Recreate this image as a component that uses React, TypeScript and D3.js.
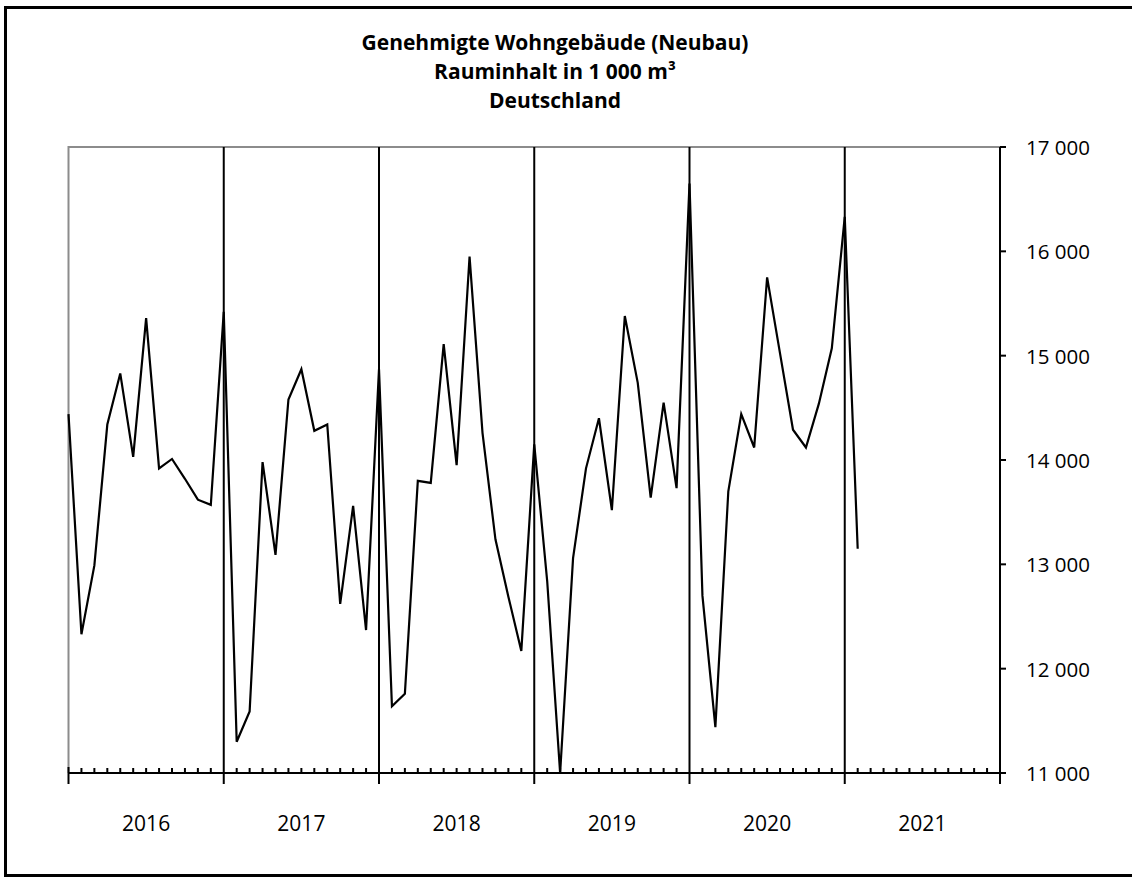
import React, { useEffect, useRef } from 'react';
import * as d3 from 'd3';

const years = ['2016', '2017', '2018', '2019', '2020', '2021'];
const yTicks = [11000, 12000, 13000, 14000, 15000, 16000, 17000];
const titleLines = ['Genehmigte Wohngebäude (Neubau)', 'Rauminhalt in 1 000 m³', 'Deutschland'];

// monthly values, Jan..Dec
const values2016 = [14440, 12330, 12990, 14340, 14830, 14030, 15360, 13920, 14010, 13820, 13620, 13570];
const values2017 = [15420, 11300, 11590, 13980, 13090, 14580, 14870, 14280, 14340, 12620, 13560, 12370];
const values2018 = [14870, 11640, 11760, 13800, 13780, 15110, 13950, 15950, 14260, 13240, 12690, 12170];
const values2019 = [14150, 12840, 11000, 13060, 13920, 14400, 13520, 15380, 14740, 13640, 14550, 13730];
const values2020 = [16650, 12700, 11440, 13700, 14440, 14120, 15750, 15020, 14290, 14120, 14540, 15070];
const values2021 = [16330, 13150];

const App = () => {
    const ref = useRef(null);

    useEffect(() => {
        const series = [...values2016, ...values2017, ...values2018, ...values2019, ...values2020, ...values2021];
        const data = series.map((v, i) => ({ i, v }));

        const svg = d3.select(ref.current);
        svg.selectAll('*').remove();

        const left = 68.5, right = 1000, top = 147, bottom = 773;
        const nMonths = years.length * 12;

        const x = d3.scaleLinear().domain([0, nMonths]).range([left, right]);
        const y = d3.scaleLinear().domain([11000, 17000]).range([bottom, top]);

        // outer frame
        svg.append('rect')
            .attr('x', 5.5).attr('y', 7.5)
            .attr('width', 1140).attr('height', 868)
            .attr('fill', 'none')
            .attr('stroke', '#000')
            .attr('stroke-width', 3);

        // title
        svg.append('g').selectAll('text')
            .data(titleLines)
            .enter().append('text')
            .attr('x', 555)
            .attr('y', (d, i) => 50 + i * 29)
            .attr('text-anchor', 'middle')
            .attr('font-family', 'Open Sans, sans-serif')
            .attr('font-weight', 'bold')
            .attr('font-size', 21)
            .attr('fill', '#000')
            .text(d => d);

        // grey plot border (left + top)
        svg.append('path')
            .attr('d', `M${left},${bottom}V${top}H${right}`)
            .attr('fill', 'none')
            .attr('stroke', '#8c8c8c')
            .attr('stroke-width', 2);

        // month ticks
        svg.append('g').selectAll('line')
            .data(d3.range(0, nMonths + 1).filter(m => m % 12 !== 0))
            .enter().append('line')
            .attr('x1', d => x(d)).attr('x2', d => x(d))
            .attr('y1', bottom).attr('y2', bottom - 5)
            .attr('stroke', '#000')
            .attr('stroke-width', 2);

        // year separators
        svg.append('g').selectAll('line')
            .data(d3.range(0, years.length + 1))
            .enter().append('line')
            .attr('x1', d => x(d * 12)).attr('x2', d => x(d * 12))
            .attr('y1', d => (d === 0 ? bottom - 6 : top))
            .attr('y2', bottom + 11)
            .attr('stroke', '#000')
            .attr('stroke-width', 2);

        // x axis line
        svg.append('line')
            .attr('x1', left).attr('x2', right)
            .attr('y1', bottom).attr('y2', bottom)
            .attr('stroke', '#000')
            .attr('stroke-width', 2);

        // year labels
        svg.append('g').selectAll('text')
            .data(years)
            .enter().append('text')
            .attr('x', (d, i) => x(i * 12 + 6))
            .attr('y', 831)
            .attr('text-anchor', 'middle')
            .attr('font-family', 'Open Sans, sans-serif')
            .attr('font-size', 21)
            .attr('fill', '#000')
            .text(d => d);

        // y axis ticks + labels on the right
        svg.append('g').selectAll('line')
            .data(yTicks)
            .enter().append('line')
            .attr('x1', right).attr('x2', right + 6)
            .attr('y1', d => y(d)).attr('y2', d => y(d))
            .attr('stroke', '#000')
            .attr('stroke-width', 2);

        const fmt = d3.formatLocale({ decimal: ',', thousands: ' ', grouping: [3], currency: ['', '€'] }).format(',d');

        svg.append('g').selectAll('text')
            .data(yTicks)
            .enter().append('text')
            .attr('x', 1026)
            .attr('y', d => y(d))
            .attr('dominant-baseline', 'central')
            .attr('font-family', 'Open Sans, sans-serif')
            .attr('font-size', 20.5)
            .attr('fill', '#000')
            .text(d => fmt(d));

        // data line
        const line = d3.line()
            .x(d => x(d.i))
            .y(d => y(d.v));

        svg.append('path')
            .datum(data)
            .attr('d', line)
            .attr('fill', 'none')
            .attr('stroke', '#000')
            .attr('stroke-width', 2.2);
    }, []);

    return (
        <svg
            ref={ref}
            width={1132}
            height={877}
            style={{ position: 'absolute', left: 0, top: 0, background: '#fff' }}
        />
    );
};

export default App;
